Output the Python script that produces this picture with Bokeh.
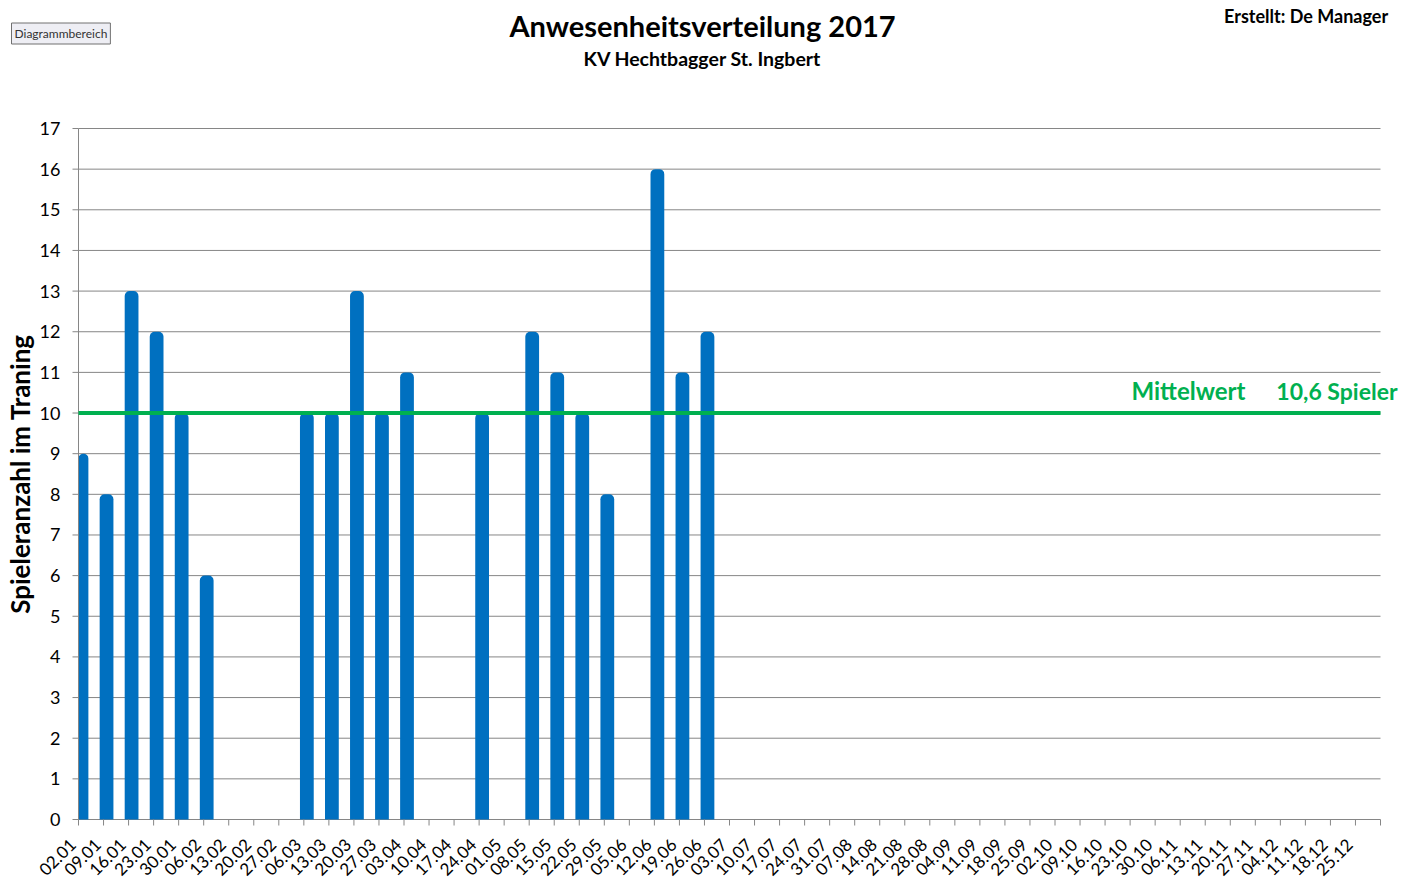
from bokeh.plotting import figure
from bokeh.models import Range1d, Label
from bokeh.core.properties import value
from bokeh.embed import file_html
from bokeh.resources import INLINE
from math import pi

weeks = ["02.01", "09.01", "16.01", "23.01", "30.01", "06.02", "13.02", "20.02", "27.02",
         "06.03", "13.03", "20.03", "27.03", "03.04", "10.04", "17.04", "24.04", "01.05",
         "08.05", "15.05", "22.05", "29.05", "05.06", "12.06", "19.06", "26.06", "03.07",
         "10.07", "17.07", "24.07", "31.07", "07.08", "14.08", "21.08", "28.08", "04.09",
         "11.09", "18.09", "25.09", "02.10", "09.10", "16.10", "23.10", "30.10", "06.11",
         "13.11", "20.11", "27.11", "04.12", "11.12", "18.12", "25.12"]
players = [9, 8, 13, 12, 10, 6, 0, 0, 0,
           10, 10, 13, 10, 11, 0, 0, 10, 0,
           12, 11, 10, 8, 0, 16, 11, 12, 0,
           0, 0, 0, 0, 0, 0, 0, 0, 0,
           0, 0, 0, 0, 0, 0, 0, 0, 0,
           0, 0, 0, 0, 0, 0, 0]
y_ticks = [0, 1, 2, 3, 4, 5, 6, 7, 8, 9, 10, 11, 12, 13, 14, 15, 16, 17]
y_tick_labels = ["0", "1", "2", "3", "4", "5", "6", "7", "8", "9", "10", "11", "12",
                 "13", "14", "15", "16", "17"]
mean_line_level = 10
mean_label = "Mittelwert"
mean_value_text = "10,6 Spieler"
title_text = "Anwesenheitsverteilung 2017"
subtitle_text = "KV Hechtbagger St. Ingbert"
author_text = "Erstellt:  De Manager"
y_label = "Spieleranzahl im Traning"
area_tag = "Diagrammbereich"

FONT = "Lato"
BLUE = "#0070C0"
GREEN = "#00B050"
GRAY = "#868686"

# layout (pixels of the canvas)
W, H = 1402, 892
FRAME_L, FRAME_R, FRAME_T, FRAME_B = 78, 1380, 128, 819
OFF = 0.12            # bar centre sits a little right of its left tick
BAR_W = 0.55
n = len(weeks)
y_max = y_ticks[-1]

x_lo, x_hi = -OFF, n - OFF
ppx = (FRAME_R - FRAME_L) / (x_hi - x_lo)
ppy = (FRAME_B - FRAME_T) / y_max
x_range = Range1d(x_lo - FRAME_L / ppx, x_hi + (W - FRAME_R) / ppx)
y_range = Range1d(-(H - FRAME_B) / ppy, y_max + FRAME_T / ppy)

xs = list(range(n))
boundaries = [i - OFF for i in range(n + 1)]

p = figure(width=W, height=H, output_backend="svg", toolbar_location=None,
           x_range=x_range, y_range=y_range, x_axis_location=None,
           y_axis_location=None, min_border=0)
p.outline_line_color = None
p.grid.visible = False
p.background_fill_color = "white"
p.border_fill_color = "white"

# gridlines (including the 0 base line)
p.segment(x0=[x_lo] * len(y_ticks), x1=[x_hi] * len(y_ticks), y0=y_ticks, y1=y_ticks,
          line_color=GRAY, line_width=1)

# bars (only weeks with attendance; the bars are cut at the value axis)
bar_x = [x for x, v in zip(xs, players) if v > 0]
bar_v = [v for v in players if v > 0]
p.quad(left=[max(x - BAR_W / 2, x_lo) for x in bar_x],
       right=[x + BAR_W / 2 for x in bar_x], bottom=[0] * len(bar_v), top=bar_v,
       fill_color=BLUE, line_color=None, border_radius=(5, 5, 0, 0))

# y axis line and ticks
p.segment(x0=[x_lo], x1=[x_lo], y0=[0], y1=[y_max], line_color=GRAY, line_width=1)
p.ray(x=[x_lo] * len(y_ticks), y=y_ticks, length=6, length_units="screen", angle=pi,
      line_color=GRAY, line_width=1)
# x ticks at category boundaries
p.ray(x=boundaries, y=[0] * len(boundaries), length=6, length_units="screen",
      angle=-pi / 2, line_color=GRAY, line_width=1)

# mean line
p.segment(x0=[x_lo], x1=[x_hi], y0=[mean_line_level], y1=[mean_line_level],
          line_color=GREEN, line_width=4)

# y tick labels
p.text(x=[x_lo] * len(y_ticks), y=y_ticks, text=y_tick_labels, x_offset=-18,
       text_align="right", text_baseline="middle", text_font=value(FONT),
       text_font_size="18px", text_color="black")
# y axis title
p.text(x=[x_lo], y=[y_max / 2], text=[y_label], x_offset=-59, angle=pi / 2,
       text_align="center", text_baseline="middle", text_font=value(FONT),
       text_font_size="26px", text_font_style="bold", text_color="black")
# x tick labels (rotated)
p.text(x=xs, y=[0] * n, text=weeks, x_offset=-9, y_offset=22, angle=pi / 4,
       text_align="right", text_baseline="middle", text_font=value(FONT),
       text_font_size="17px", text_color="black")


def add_text(text, sx, sy, size, align="left", color="black", bold=True, **kw):
    p.add_layout(Label(x=sx, y=sy, x_units="screen", y_units="screen", text=text,
                       text_align=align, text_baseline="middle", text_font=FONT,
                       text_font_size=size,
                       text_font_style="bold" if bold else "normal",
                       text_color=color, **kw))


add_text(title_text, 702, H - 25, "29px", align="center")
add_text(subtitle_text, 702, H - 58, "19.5px", align="center")
add_text(author_text, 1392, H - 15, "18px", align="right")
add_text(mean_label, 1131, H - 390, "24px", color=GREEN)
add_text(mean_value_text, 1397, H - 390, "23px", align="right", color=GREEN)
add_text(area_tag, 11, H - 33, "12px", bold=False, color="#333333",
         background_fill_color="#eeeef4", border_line_color="#707070", padding=3)

open("out.html", "w").write(file_html(p, INLINE))
